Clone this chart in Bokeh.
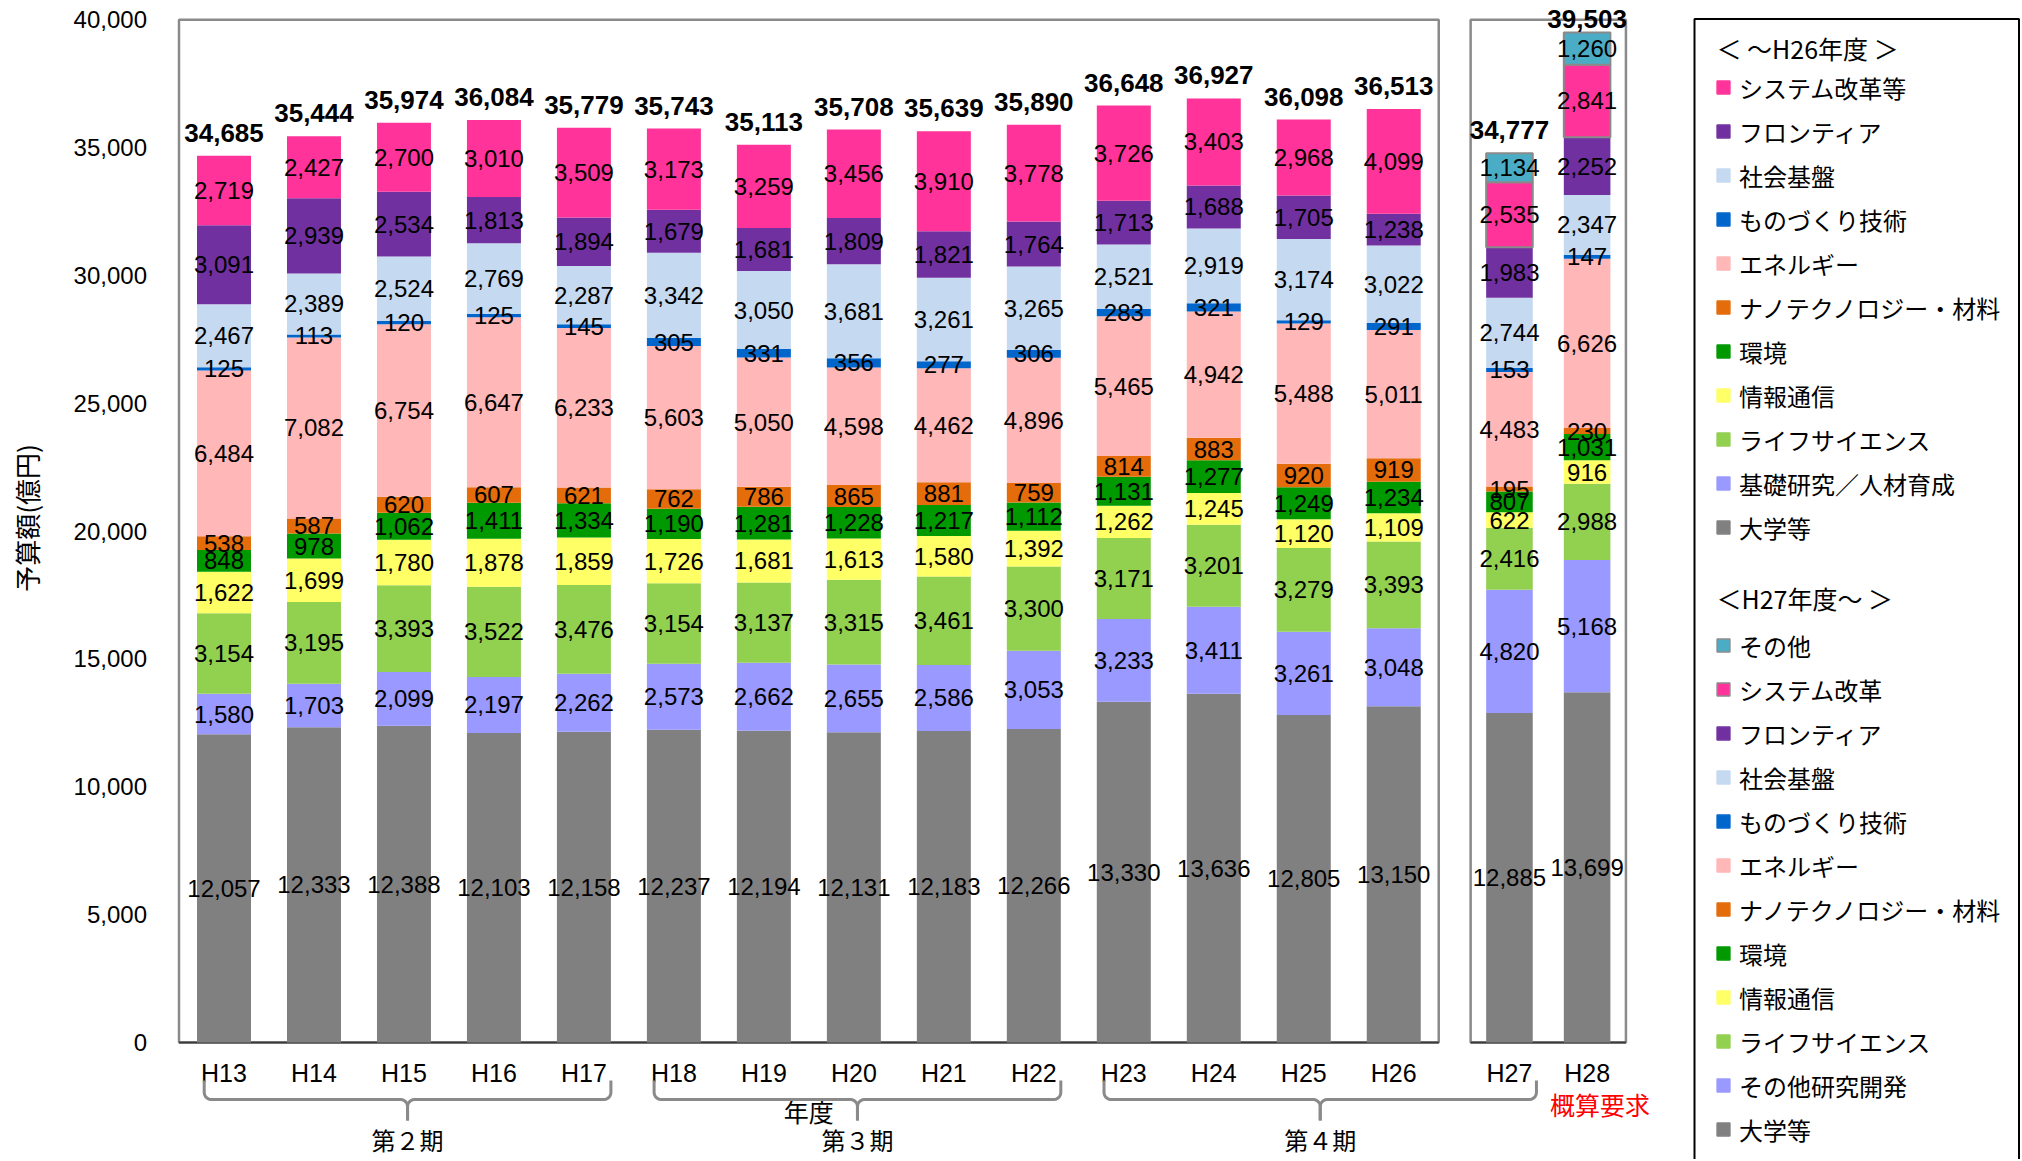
import numpy as np
from bokeh.plotting import figure
from bokeh.models import (ColumnDataSource, Range1d, FixedTicker, NumeralTickFormatter,
                          Legend, LegendItem)
from bokeh.core.properties import value
from bokeh.embed import file_html
from bokeh.resources import INLINE

# ---------------- data ----------------
years_a = ["H13", "H14", "H15", "H16", "H17", "H18", "H19", "H20", "H21", "H22",
           "H23", "H24", "H25", "H26"]
years_b = ["H27", "H28"]

# stacked bottom -> top (up to H26)
univ_a   = [12057, 12333, 12388, 12103, 12158, 12237, 12194, 12131, 12183, 12266, 13330, 13636, 12805, 13150]
basic_a  = [1580, 1703, 2099, 2197, 2262, 2573, 2662, 2655, 2586, 3053, 3233, 3411, 3261, 3048]
life_a   = [3154, 3195, 3393, 3522, 3476, 3154, 3137, 3315, 3461, 3300, 3171, 3201, 3279, 3393]
info_a   = [1622, 1699, 1780, 1878, 1859, 1726, 1681, 1613, 1580, 1392, 1262, 1245, 1120, 1109]
env_a    = [848, 978, 1062, 1411, 1334, 1190, 1281, 1228, 1217, 1112, 1131, 1277, 1249, 1234]
nano_a   = [538, 587, 620, 607, 621, 762, 786, 865, 881, 759, 814, 883, 920, 919]
energy_a = [6484, 7082, 6754, 6647, 6233, 5603, 5050, 4598, 4462, 4896, 5465, 4942, 5488, 5011]
manuf_a  = [125, 113, 120, 125, 145, 305, 331, 356, 277, 306, 283, 321, 129, 291]
infra_a  = [2467, 2389, 2524, 2769, 2287, 3342, 3050, 3681, 3261, 3265, 2521, 2919, 3174, 3022]
front_a  = [3091, 2939, 2534, 1813, 1894, 1679, 1681, 1809, 1821, 1764, 1713, 1688, 1705, 1238]
reform_a = [2719, 2427, 2700, 3010, 3509, 3173, 3259, 3456, 3910, 3778, 3726, 3403, 2968, 4099]
totals_a = [34685, 35444, 35974, 36084, 35779, 35743, 35113, 35708, 35639, 35890, 36648, 36927, 36098, 36513]

# stacked bottom -> top (from H27)
univ_b    = [12885, 13699]
otherrd_b = [4820, 5168]
life_b    = [2416, 2988]
info_b    = [622, 916]
env_b     = [807, 1031]
nano_b    = [195, 230]
energy_b  = [4483, 6626]
manuf_b   = [153, 147]
infra_b   = [2744, 2347]
front_b   = [1983, 2252]
reform_b  = [2535, 2841]
other_b   = [1134, 1260]
totals_b  = [34777, 39503]

names_a = ["大学等", "基礎研究／人材育成", "ライフサイエンス", "情報通信", "環境",
           "ナノテクノロジー・材料", "エネルギー", "ものづくり技術", "社会基盤", "フロンティア", "システム改革等"]
names_b = ["大学等", "その他研究開発", "ライフサイエンス", "情報通信", "環境",
           "ナノテクノロジー・材料", "エネルギー", "ものづくり技術", "社会基盤", "フロンティア", "システム改革", "その他"]

header_a = "＜ ～H26年度 ＞"
header_b = "＜H27年度～ ＞"

periods = ["第２期", "第３期", "第４期"]
period_first = ["H13", "H18", "H23"]
period_last = ["H17", "H22", "H27"]
y_title = "予算額(億円)"
x_title = "年度"
request_note = "概算要求"
y_ticks = [0, 5000, 10000, 15000, 20000, 25000, 30000, 35000, 40000]

# ---------------- styles / layout ----------------
colors_a = ["#808080", "#9999FF", "#92D050", "#FFFF66", "#009900", "#E46C0A",
            "#FFB7B7", "#0066CC", "#C5D9F1", "#7030A0", "#FF3399"]
colors_b = colors_a + ["#4BACC6"]
JP = "Noto Sans CJK JP"
NUM = "Liberation Sans"

W, H = 2020, 1159
PX_X = 89.98                    # px per category step
Y_PX = 0.0255675                # px per unit of value
X0 = -223.5 / PX_X              # first bar centred at 223.5 px
X1 = X0 + W / PX_X
Y1 = 40000 + 19.3 / Y_PX        # 40,000 at 19.3 px from top
Y0 = Y1 - H / Y_PX

def xpx(px):
    return X0 + px / PX_X

def ypx(px):
    return Y1 - px / Y_PX

PITCH_B = 0.863
GAP_B = 1.286
xa = np.arange(len(years_a), dtype=float)
xb = xa[-1] + GAP_B + np.arange(len(years_b)) * PITCH_B
pos = dict(zip(years_a + years_b, list(xa) + list(xb)))

p = figure(width=W, height=H, output_backend="svg", toolbar_location=None,
           x_range=Range1d(X0, X1), y_range=Range1d(Y0, Y1),
           x_axis_location=None, min_border_left=0, min_border_right=0,
           min_border_top=0, min_border_bottom=0, outline_line_color=None,
           background_fill_color="white", border_fill_color="white")
p.grid.visible = False

ax = p.yaxis[0]
ax.fixed_location = xa[0] - 0.5
ax.ticker = FixedTicker(ticks=y_ticks)
ax.formatter = NumeralTickFormatter(format="0,0")
ax.axis_line_color = None
ax.major_tick_line_color = None
ax.minor_tick_line_color = None
ax.major_label_standoff = 26
ax.major_label_text_font = NUM
ax.major_label_text_font_size = "24px"
ax.major_label_text_color = "#000000"

# panel frames
p.quad(left=[xa[0] - 0.5, xb[0] - PITCH_B / 2], right=[xa[-1] + 0.5, xb[-1] + PITCH_B / 2],
       bottom=[0, 0], top=[40000, 40000], fill_color=None, line_color="#8a8a8a", line_width=2.5)
p.segment(x0=[xa[0] - 0.5, xb[0] - PITCH_B / 2], y0=[0, 0],
          x1=[xa[-1] + 0.5, xb[-1] + PITCH_B / 2], y1=[0, 0], line_color="#3c3c3c", line_width=2)

# stacked bars
series_a = [univ_a, basic_a, life_a, info_a, env_a, nano_a, energy_a, manuf_a, infra_a, front_a, reform_a]
series_b = [univ_b, otherrd_b, life_b, info_b, env_b, nano_b, energy_b, manuf_b, infra_b, front_b, reform_b, other_b]
keys_a = [f"a{i}" for i in range(len(series_a))]
keys_b = [f"b{i}" for i in range(len(series_b))]
src_a = ColumnDataSource(dict(x=xa, **{k: s for k, s in zip(keys_a, series_a)}))
src_b = ColumnDataSource(dict(x=xb, **{k: s for k, s in zip(keys_b, series_b)}))
p.vbar_stack(keys_a, x="x", width=0.6, source=src_a, fill_color=colors_a, line_color=None)
line_b = [None] * 10 + ["#8a8a8a", "#8a8a8a"]
p.vbar_stack(keys_b, x="x", width=0.6 * PITCH_B, source=src_b, fill_color=colors_b,
             line_color=line_b, line_width=2)

# segment labels
lx, ly, lt = [], [], []
for xs, series in ((xa, series_a), (xb, series_b)):
    bottoms = np.zeros(len(xs))
    for s in series:
        s = np.array(s, dtype=float)
        for i in range(len(xs)):
            lx.append(xs[i]); ly.append(bottoms[i] + s[i] / 2); lt.append(f"{int(s[i]):,}")
        bottoms += s
p.text(x=lx, y=ly, text=lt, text_font=value(NUM), text_font_size="24px",
       text_align="center", text_baseline="middle", text_color="#000000")

# totals (kept inside the canvas)
tot = np.array(totals_a + totals_b, dtype=float)
cap = Y1 - (18 + 23) / Y_PX
p.text(x=list(xa) + list(xb), y=np.minimum(tot, cap), text=[f"{int(t):,}" for t in tot],
       y_offset=-23, text_font=value(NUM), text_font_size="26px", text_font_style="bold",
       text_align="center", text_baseline="middle", text_color="#000000")

# category labels below
p.text(x=list(xa) + list(xb), y=[0] * (len(xa) + len(xb)), text=years_a + years_b, y_offset=30,
       text_font=value(NUM), text_font_size="25px", text_align="center", text_baseline="middle",
       text_color="#000000")
p.text(x=[(xa[0] + xa[-1]) / 2], y=[0], text=[x_title], y_offset=68, text_font=value(JP),
       text_font_size="25px", text_align="center", text_baseline="middle", text_color="#000000")
p.text(x=[xb[-1]], y=[0], text=[request_note], x_offset=13, y_offset=61, text_font=value(JP),
       text_font_size="25px", text_align="center", text_baseline="middle", text_color="#FF0000")

# braces
def brace(xl, xr, top_px=38, mid_px=57, tip_px=78, r=7):
    rx, ry = r / PX_X, r / Y_PX
    yt, ym, ytip = -top_px / Y_PX, -mid_px / Y_PX, -tip_px / Y_PX
    xm = (xl + xr) / 2
    ang = np.linspace(0, np.pi / 2, 6)
    lxs = [xl] + list(xl + rx - rx * np.cos(ang)) + list(xm - rx + rx * np.sin(ang)) + [xm]
    lys = [yt] + list(ym + ry - ry * np.sin(ang)) + list(ym - ry + ry * np.cos(ang)) + [ytip]
    rxs = [xr] + list(xr - rx + rx * np.cos(ang)) + list(xm + rx - rx * np.sin(ang)) + [xm]
    return [lxs, rxs], [lys, lys]

bxs, bys = [], []
mids = []
for f, l in zip(period_first, period_last):
    xl, xr = pos[f] - 0.22, pos[l] + 0.3
    a, b = brace(xl, xr)
    bxs += a; bys += b
    mids.append((xl + xr) / 2)
p.multi_line(xs=bxs, ys=bys, line_color="#8a8a8a", line_width=3)
p.text(x=mids, y=[0] * len(mids), text=periods, y_offset=97, text_font=value(JP),
       text_font_size="24px", text_align="center", text_baseline="middle", text_color="#000000")

# y title
p.text(x=[xpx(26)], y=[ypx(517.5)], text=[y_title], angle=np.pi / 2, text_font=value(JP),
       text_font_size="26px", text_align="center", text_baseline="middle", text_color="#000000")

# legend box and section headers
p.quad(left=[xpx(1694)], right=[xpx(W - 1.5)], top=[ypx(18.5)], bottom=[Y0 - 2000],
       fill_color=None, line_color="#000000", line_width=2)
p.text(x=[xpx(1716)] * 2, y=[ypx(47), ypx(597)], text=[header_a, header_b],
       text_font=value(JP), text_font_size="25px", text_align="left", text_baseline="middle",
       text_color="#000000")

def swatch(c, lc):
    # legend-only renderer: its single point lies outside the visible range
    return p.scatter(x=[X0 - 50], y=[0], marker="square", size=13, fill_color=c,
                     line_color=lc, line_width=1.5)

items_a = []
for name, c in reversed(list(zip(names_a, colors_a))):
    items_a.append(LegendItem(label=name, renderers=[swatch(c, c)]))
items_b = []
for i, (name, c) in reversed(list(enumerate(zip(names_b, colors_b)))):
    lc = "#8a8a8a" if i >= 10 else c
    items_b.append(LegendItem(label=name, renderers=[swatch(c, lc)]))

ROW = 44
common = dict(orientation="vertical", glyph_width=32, glyph_height=ROW, label_height=ROW,
              spacing=0, padding=0, margin=0, label_standoff=0, label_text_font=JP,
              label_text_font_size="24px", label_text_color="#000000",
              background_fill_alpha=0, border_line_color=None)
LEG_X = 1707
top_a = 87 - ROW / 2
top_b = 645 - ROW / 2
leg_a = Legend(items=items_a, location=(LEG_X, H - top_a - ROW * len(items_a)), **common)
leg_b = Legend(items=items_b, location=(LEG_X, H - top_b - ROW * len(items_b)), **common)
p.add_layout(leg_a)
p.add_layout(leg_b)

open("out.html", "w").write(file_html(p, INLINE))
